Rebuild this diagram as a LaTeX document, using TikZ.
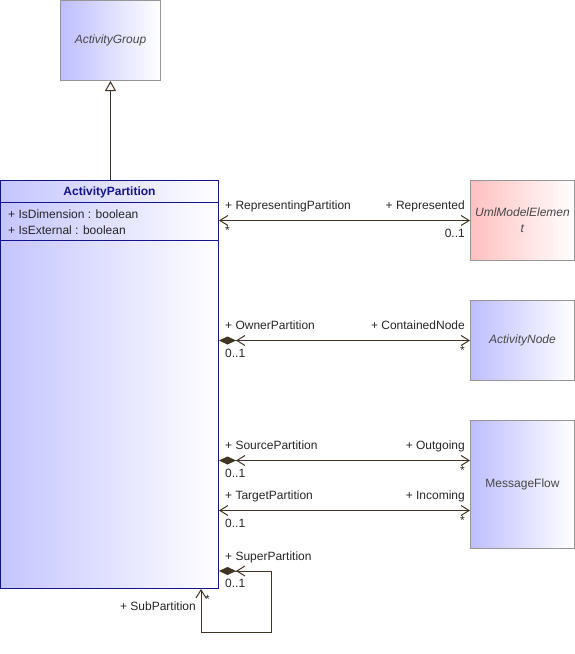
\documentclass[tikz,border=0pt]{standalone}
\usepackage{fontspec}
\setmainfont{Liberation Sans}
\usetikzlibrary{arrows.meta}
\definecolor{linecol}{RGB}{64,52,36}
\definecolor{boxgray}{RGB}{150,150,150}
\definecolor{navyline}{RGB}{20,20,140}
\definecolor{blueshade}{RGB}{190,190,255}
\definecolor{pinkshade}{RGB}{255,192,192}
\definecolor{namegray}{RGB}{72,72,72}
\tikzset{
  >=Straight Barb,
  cls/.style={draw=boxgray,line width=1pt,left color=blueshade,right color=white,
    text=namegray,minimum width=104pt,minimum height=80pt,anchor=north west,
    inner sep=0pt,align=center,text width=100pt},
  role/.style={text=black!85,inner sep=0pt},
  assoc/.style={draw=linecol,line width=1pt,
    {Straight Barb[length=8pt,width=10pt]}-{Straight Barb[length=8pt,width=10pt]}},
  comp/.style={draw=linecol,line width=1pt,
    {Diamond[length=17pt,width=8pt,fill=linecol]Straight Barb[length=8pt,width=10pt]}-{Straight Barb[length=8pt,width=10pt]}},
}

\begin{document}
\begin{tikzpicture}[x=1pt,y=-1pt,font=\fontsize{12}{16}\selectfont]
\useasboundingbox (0,0) rectangle (575,654);

\node[cls,minimum width=100pt] (group) at (60,0) {\textit{ActivityGroup}};
\node[cls,left color=pinkshade] (uml) at (470,180) {\textit{UmlModelElemen}\\\textit{t}};
\node[cls] (anode) at (470,300) {\textit{ActivityNode}};
\node[cls,minimum height=128pt] (mflow) at (470,420) {MessageFlow};

\node[cls,draw=navyline,left color=blueshade!90,minimum width=218pt,
  minimum height=408pt] (part) at (0,180) {};
\draw[navyline,line width=1pt]
  ([yshift=-22pt]part.north west) -- ([yshift=-22pt]part.north east)
  ([yshift=-60pt]part.north west) -- ([yshift=-60pt]part.north east);
\node[text=navyline,font=\fontsize{12}{14}\selectfont\bfseries,anchor=base]
  (partname) at ([yshift=-15pt]part.north) {ActivityPartition};
\node[role,anchor=base west,align=left]
  (attrs) at ([xshift=8pt,yshift=-54pt]part.north west)
  {+ IsDimension : boolean\\+ IsExternal : boolean};

\draw[draw=linecol,line width=1pt,-{Triangle[open,length=10pt,width=11pt,fill=white]}]
  (part.north -| group.south) -- (group.south);

\path
  (uml.west -| part.east) coordinate (A1) --
  (uml.west) coordinate (B1)
  (anode.west -| part.east) coordinate (A2) --
  (anode.west) coordinate (B2)
  ([yshift=24pt]mflow.west -| part.east) coordinate (A3) --
  ([yshift=24pt]mflow.west) coordinate (B3)
  ([yshift=-26pt]mflow.west -| part.east) coordinate (A4) --
  ([yshift=-26pt]mflow.west) coordinate (B4);

\draw[assoc] (A1) -- (B1);
\draw[comp] (A2) -- (B2);
\draw[comp] (A3) -- (B3);
\draw[assoc] (A4) -- (B4);
\draw[comp]
  ([yshift=18pt]part.south east) coordinate (S1) --
  ++(52,0) --
  ++(0,61) -|
  ([xshift=-18pt]part.south east) coordinate (S2);

\node[role,anchor=base west] at ([xshift=6pt,yshift=11pt]A1) {+ RepresentingPartition};
\node[role,anchor=base east] at ([xshift=-5pt,yshift=11pt]B1) {+ Represented};
\node[role,anchor=north west] at ([xshift=6pt,yshift=-6pt]A1) {*};
\node[role,anchor=base east] at ([xshift=-5pt,yshift=-17pt]B1) {0..1};

\node[role,anchor=base west] at ([xshift=6pt,yshift=11pt]A2) {+ OwnerPartition};
\node[role,anchor=base east] at ([xshift=-5pt,yshift=11pt]B2) {+ ContainedNode};
\node[role,anchor=base west] at ([xshift=6pt,yshift=-17pt]A2) {0..1};
\node[role,anchor=north east] at ([xshift=-5pt,yshift=-6pt]B2) {*};

\node[role,anchor=base west] at ([xshift=6pt,yshift=11pt]A3) {+ SourcePartition};
\node[role,anchor=base east] at ([xshift=-5pt,yshift=11pt]B3) {+ Outgoing};
\node[role,anchor=base west] at ([xshift=6pt,yshift=-17pt]A3) {0..1};
\node[role,anchor=north east] at ([xshift=-5pt,yshift=-6pt]B3) {*};

\node[role,anchor=base west] at ([xshift=6pt,yshift=11pt]A4) {+ TargetPartition};
\node[role,anchor=base east] at ([xshift=-5pt,yshift=11pt]B4) {+ Incoming};
\node[role,anchor=base west] at ([xshift=6pt,yshift=-17pt]A4) {0..1};
\node[role,anchor=north east] at ([xshift=-5pt,yshift=-6pt]B4) {*};

\node[role,anchor=base west] at ([xshift=6pt,yshift=11pt]S1) {+ SuperPartition};
\node[role,anchor=base west] at ([xshift=6pt,yshift=-16pt]S1) {0..1};
\node[role,anchor=base east] at ([xshift=-5pt,yshift=-21pt]S2) {+ SubPartition};
\node[role,anchor=north west] at ([xshift=4pt,yshift=-6pt]S2) {*};
\end{tikzpicture}
\end{document}
